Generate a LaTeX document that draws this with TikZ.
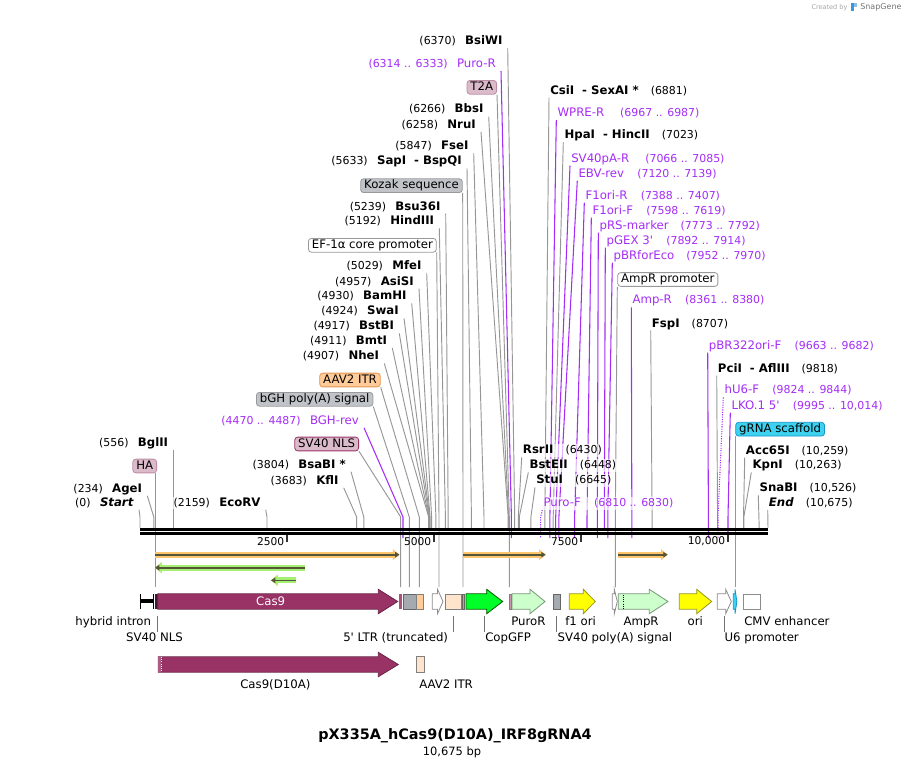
\documentclass[tikz,border=0pt]{standalone}
\usepackage{fontspec}
\setmainfont{DejaVu Sans}
\usetikzlibrary{arrows.meta,positioning,backgrounds}

\definecolor{sitegray}{RGB}{150,150,150}
\definecolor{primer}{RGB}{165,45,245}
\definecolor{cas9}{RGB}{153,51,102}
\definecolor{nlspink}{RGB}{219,186,201}
\definecolor{haborder}{RGB}{190,140,165}
\definecolor{t2apink}{RGB}{200,150,170}
\definecolor{boxgray}{RGB}{192,196,201}
\definecolor{featgray}{RGB}{165,170,176}
\definecolor{itrorange}{RGB}{255,204,153}
\definecolor{itrborder}{RGB}{225,150,80}
\definecolor{ltrpeach}{RGB}{255,228,204}
\definecolor{gfpgreen}{RGB}{0,255,40}
\definecolor{resgreen}{RGB}{204,255,204}
\definecolor{resborder}{RGB}{120,150,120}
\definecolor{oriyellow}{RGB}{255,255,0}
\definecolor{oriborder}{RGB}{150,150,40}
\definecolor{grnacyan}{RGB}{60,210,240}
\definecolor{grnaborder}{RGB}{20,150,200}
\definecolor{orfband}{RGB}{255,196,110}
\definecolor{orfgreen}{RGB}{165,240,115}
\definecolor{orfdark}{RGB}{85,85,55}
\definecolor{snapblue}{RGB}{60,150,220}

\newcommand{\sitenum}[1]{{\fontsize{8.2}{9}\selectfont(#1)}}
\newcommand{\farrow}[5]{\draw[#1] (#2,#5-7.7) -- (#3,#5-7.7) -- (#3,#5-12.2) -- (#4,#5) -- (#3,#5+12.2) -- (#3,#5+7.7) -- (#2,#5+7.7) -- cycle;}

\tikzstyle{lsite} = [anchor=east, inner xsep=3.75pt, inner ysep=0.6pt, text height=6.5pt, text depth=2pt,
fill=white, fill opacity=0.65, text opacity=1]
\tikzstyle{rsite} = [lsite, anchor=west, inner xsep=0.75pt]
\tikzstyle{lprimer} = [lsite, text=primer]
\tikzstyle{rprimer} = [rsite, text=primer]
\tikzstyle{fbox} = [draw, rounded corners=2.2pt, inner xsep=2.6pt, inner ysep=0.9pt,
text height=6.5pt, text depth=2pt, line width=0.6pt]
\tikzstyle{flabel} = [inner sep=0pt, text height=6.5pt, text depth=2pt]
\tikzstyle{ruler} = [anchor=east, inner sep=0pt, font=\fontsize{8}{9}\selectfont]
\tikzstyle{line} = [draw=sitegray, line width=0.7pt]
\tikzstyle{pline} = [draw=primer, line width=0.8pt]
\tikzstyle{tick} = [draw=black!55, line width=0.7pt]
\tikzstyle{fcas} = [fill=cas9, draw=cas9!70!black, line width=0.6pt]
\tikzstyle{fgray} = [fill=featgray, draw=black!60, line width=0.6pt]
\tikzstyle{fitr} = [fill=itrorange, draw=black!50, line width=0.6pt]
\tikzstyle{fltr} = [fill=ltrpeach, draw=black!50, line width=0.6pt]
\tikzstyle{fwhite} = [fill=white, draw=black!45, line width=0.6pt]
\tikzstyle{fgfp} = [fill=gfpgreen, draw=green!35!black, line width=0.6pt]
\tikzstyle{fres} = [fill=resgreen, draw=resborder, line width=0.6pt]
\tikzstyle{fori} = [fill=oriyellow, draw=oriborder, line width=0.6pt]
\tikzstyle{fgrna} = [fill=grnacyan, draw=grnaborder, line width=0.6pt]
\tikzstyle{orf} = [preaction={draw=orfband, line width=4.6pt, -{Triangle[length=5pt,width=8pt]}},
draw=orfdark, line width=1.2pt, -{Triangle[length=3.2pt,width=4pt]}]
\tikzstyle{orfg} = [orf, preaction={draw=orfgreen, line width=4.6pt, -{Triangle[length=5pt,width=8pt]}}]

\begin{document}
\begin{tikzpicture}[x=0.75pt, y=-0.75pt, every node/.style={font=\fontsize{8.8}{10}\selectfont}]
\useasboundingbox (0,0) rectangle (909,767);

% Helper heights
\coordinate (bend) at (0,517);

% Cut sites on the backbone
\coordinate (s-start) at (140,528);   \coordinate (s-agei) at (153.8,528);  \coordinate (s-bglii) at (173.3,528);
\coordinate (s-ecorv) at (267,528);   \coordinate (s-kfli) at (356.7,528);  \coordinate (s-bsabi) at (363.8,528);
\coordinate (s-nhei) at (428.7,528);  \coordinate (s-bmti) at (428.9,528);  \coordinate (s-bstbi) at (429.3,528);
\coordinate (s-swai) at (429.7,528);  \coordinate (s-bamhi) at (430.1,528); \coordinate (s-asisi) at (431.6,528);
\coordinate (s-mfei) at (435.9,528);  \coordinate (s-hind) at (445.4,528);  \coordinate (s-bsu) at (448.2,528);
\coordinate (s-sapi) at (471.4,528);  \coordinate (s-fsei) at (484,528);    \coordinate (s-nrui) at (508.2,528);
\coordinate (s-bbsi) at (508.6,528);  \coordinate (s-bsiwi) at (514.7,528); \coordinate (s-rsrii) at (518.3,528);
\coordinate (s-bsteii) at (519.3,528); \coordinate (s-stui) at (530.9,528); \coordinate (s-csii) at (544.8,528);
\coordinate (s-hpai) at (553.2,528);  \coordinate (s-fspi) at (652.2,528);  \coordinate (s-pcii) at (717.6,528);
\coordinate (s-acc) at (743.5,528);   \coordinate (s-kpni) at (743.8,528);  \coordinate (s-snabi) at (759.2,528);
\coordinate (s-end) at (768,528);

% Primer sites
\coordinate (p-bghrev) at (403,538);  \coordinate (p-puror) at (511.4,538); \coordinate (p-purof) at (540.6,538);
\coordinate (p-wprer) at (549.9,538); \coordinate (p-sv40par) at (555.7,538); \coordinate (p-ebvrev) at (558.9,538);
\coordinate (p-f1orir) at (574.6,538); \coordinate (p-f1orif) at (587,528); \coordinate (p-prs) at (597.3,538);
\coordinate (p-pgex) at (604.3,528);  \coordinate (p-pbrfor) at (607.8,538); \coordinate (p-ampr) at (631.9,538);
\coordinate (p-pbr322) at (708.5,538); \coordinate (p-hu6f) at (718,538);  \coordinate (p-lko) at (728,538);

% Feature tops
\coordinate (f-ha) at (155.7,587);    \coordinate (f-nls) at (400.7,587);   \coordinate (f-bgh) at (409.3,587);
\coordinate (f-itr) at (419.3,587);   \coordinate (f-ef) at (439,587);      \coordinate (f-kozak) at (463,587);
\coordinate (f-t2a) at (509.3,587);   \coordinate (f-amprp) at (615.3,587); \coordinate (f-grna) at (735.3,587);

% Left labels
\node[lsite] (bsiwi) at (507.7,41.7) {\sitenum{6370}\hspace{7pt}\textbf{BsiWI}};
\node[lprimer] (puror) at (501,64.3) {\sitenum{6314 .. 6333}\hspace{7pt}Puro-R};
\node[fbox, fill=nlspink, draw=haborder, anchor=east] (t2a) at (497,87.3) {T2A};
\node[lsite] (bbsi) at (488.7,110) {\sitenum{6266}\hspace{7pt}\textbf{BbsI}};
\node[lsite] (nrui) at (481,125) {\sitenum{6258}\hspace{7pt}\textbf{NruI}};
\node[lsite] (fsei) at (473.7,146.7) {\sitenum{5847}\hspace{7pt}\textbf{FseI}};
\node[lsite] (sapi) at (467,161.7) {\sitenum{5633}\hspace{7pt}\textbf{SapI}\hspace{6pt}\textbf{-}\hspace{3pt}\textbf{BspQI}};
\node[fbox, fill=boxgray, draw=black!40, anchor=east] (kozak) at (462.7,185.7) {Kozak sequence};
\node[lsite] (bsu) at (445.7,207) {\sitenum{5239}\hspace{7pt}\textbf{Bsu36I}};
\node[lsite] (hind) at (439.3,221.7) {\sitenum{5192}\hspace{7pt}\textbf{HindIII}};
\node[fbox, fill=white, draw=black!40, anchor=east] (ef) at (436.7,245.3) {EF-1α core promoter};
\node[lsite] (mfei) at (426.7,266.7) {\sitenum{5029}\hspace{7pt}\textbf{MfeI}};
\node[lsite] (asisi) at (419,282) {\sitenum{4957}\hspace{7pt}\textbf{AsiSI}};
\node[lsite] (bamhi) at (411.7,296.7) {\sitenum{4930}\hspace{7pt}\textbf{BamHI}};
\node[lsite] (swai) at (404,311.7) {\sitenum{4924}\hspace{7pt}\textbf{SwaI}};
\node[lsite] (bstbi) at (399.3,326.7) {\sitenum{4917}\hspace{7pt}\textbf{BstBI}};
\node[lsite] (bmti) at (392.3,341.3) {\sitenum{4911}\hspace{7pt}\textbf{BmtI}};
\node[lsite] (nhei) at (384.3,356.7) {\sitenum{4907}\hspace{7pt}\textbf{NheI}};
\node[fbox, fill=itrorange, draw=itrborder, anchor=east] (itr) at (380.7,380) {AAV2 ITR};
\node[fbox, fill=boxgray, draw=black!40, anchor=east] (bgh) at (373.3,399.3) {bGH poly(A) signal};
\node[lprimer] (bghrev) at (364,421) {\sitenum{4470 .. 4487}\hspace{7pt}BGH-rev};
\node[fbox, fill=nlspink, draw=cas9, anchor=east] (nlsbox) at (359,444) {SV40 NLS};
\node[lsite] (bsabi) at (351,465) {\sitenum{3804}\hspace{7pt}\textbf{BsaBI *}};
\node[lsite] (kfli) at (343.7,481) {\sitenum{3683}\hspace{7pt}\textbf{KflI}};
\node[lsite] (bglii) at (173.3,443) {\sitenum{556}\hspace{7pt}\textbf{BglII}};
\node[fbox, fill=nlspink, draw=haborder, anchor=east] (ha) at (157,466) {HA};
\node[lsite] (agei) at (147.3,489) {\sitenum{234}\hspace{7pt}\textbf{AgeI}};
\node[lsite] (startlbl) at (139,503) {\sitenum{0}\hspace{7pt}\textbf{\textit{Start}}};
\node[lsite] (ecorv) at (265.7,503) {\sitenum{2159}\hspace{7pt}\textbf{EcoRV}};

% Right labels
\node[rsite] (csii) at (549,91) {\textbf{CsiI}\hspace{6pt}\textbf{-}\hspace{3pt}\textbf{SexAI *}\hspace{9pt}\sitenum{6881}};
\node[rprimer] (wprer) at (556.3,113.3) {WPRE-R\hspace{12pt}\sitenum{6967 .. 6987}};
\node[rsite] (hpai) at (563.3,135.7) {\textbf{HpaI}\hspace{6pt}\textbf{-}\hspace{3pt}\textbf{HincII}\hspace{9pt}\sitenum{7023}};
\node[rprimer] (sv40par) at (570,159) {SV40pA-R\hspace{12pt}\sitenum{7066 .. 7085}};
\node[rprimer] (ebvrev) at (577.3,174) {EBV-rev\hspace{10pt}\sitenum{7120 .. 7139}};
\node[rprimer] (f1orir) at (584.3,196) {F1ori-R\hspace{10pt}\sitenum{7388 .. 7407}};
\node[rprimer] (f1orif) at (591.3,211) {F1ori-F\hspace{10pt}\sitenum{7598 .. 7619}};
\node[rprimer] (prs) at (598.3,226) {pRS-marker\hspace{9pt}\sitenum{7773 .. 7792}};
\node[rprimer] (pgex) at (605.3,241) {pGEX 3\textquotesingle\hspace{10pt}\sitenum{7892 .. 7914}};
\node[rprimer] (pbrfor) at (612.3,256) {pBRforEco\hspace{9pt}\sitenum{7952 .. 7970}};
\node[fbox, fill=white, draw=black!40, anchor=west] (amprp) at (617.3,279.5) {AmpR promoter};
\node[rprimer] (amprpr) at (631.3,300.7) {Amp-R\hspace{10pt}\sitenum{8361 .. 8380}};
\node[rsite] (fspi) at (650.7,324) {\textbf{FspI}\hspace{9pt}\sitenum{8707}};
\node[rprimer] (pbr322) at (707.7,346) {pBR322ori-F\hspace{10pt}\sitenum{9663 .. 9682}};
\node[rsite] (pcii) at (716.7,369) {\textbf{PciI}\hspace{6pt}\textbf{-}\hspace{3pt}\textbf{AflIII}\hspace{9pt}\sitenum{9818}};
\node[rprimer] (hu6f) at (723.3,390.7) {hU6-F\hspace{10pt}\sitenum{9824 .. 9844}};
\node[rprimer] (lko) at (730.3,406) {LKO.1 5\textquotesingle\hspace{10pt}\sitenum{9995 .. 10,014}};
\node[fbox, fill=grnacyan, draw=grnaborder, anchor=west] (grna) at (735.3,429.2) {gRNA scaffold};
\node[rsite] (acc) at (744.7,451) {\textbf{Acc65I}\hspace{9pt}\sitenum{10,259}};
\node[rsite] (kpni) at (751.3,465.7) {\textbf{KpnI}\hspace{9pt}\sitenum{10,263}};
\node[rsite] (snabi) at (758.3,488.7) {\textbf{SnaBI}\hspace{9pt}\sitenum{10,526}};
\node[rsite] (endlbl) at (767.7,503.3) {\textbf{\textit{End}}\hspace{9pt}\sitenum{10,675}};
\node[rsite] (rsrii) at (521.7,450.7) {\textbf{RsrII}\hspace{9pt}\sitenum{6430}};
\node[rsite] (bsteii) at (528.3,465.7) {\textbf{BstEII}\hspace{9pt}\sitenum{6448}};
\node[rsite] (stui) at (535,480.7) {\textbf{StuI}\hspace{9pt}\sitenum{6645}};
\node[rprimer] (purof) at (542.3,503.3) {Puro-F\hspace{10pt}\sitenum{6810 .. 6830}};

% Leader lines
\begin{scope}[on background layer]
  \draw[line] (startlbl.south east) -- (s-start |- bend) -- (s-start);
  \draw[line] (agei.south east) -- (s-agei |- bend) -- (s-agei);
  \draw[line] (bglii.south east) -- (s-bglii);
  \draw[line] (ecorv.south east) -- (s-ecorv |- bend) -- (s-ecorv);
  \draw[line] (kfli.south east) -- (s-kfli |- bend) -- (s-kfli);
  \draw[line] (bsabi.south east) -- (s-bsabi |- bend) -- (s-bsabi);
  \draw[line] (nhei.south east) -- (s-nhei |- bend) -- (s-nhei);
  \draw[line] (bmti.south east) -- (s-bmti |- bend) -- (s-bmti);
  \draw[line] (bstbi.south east) -- (s-bstbi |- bend) -- (s-bstbi);
  \draw[line] (swai.south east) -- (s-swai |- bend) -- (s-swai);
  \draw[line] (bamhi.south east) -- (s-bamhi |- bend) -- (s-bamhi);
  \draw[line] (asisi.south east) -- (s-asisi |- bend) -- (s-asisi);
  \draw[line] (mfei.south east) -- (s-mfei |- bend) -- (s-mfei);
  \draw[line] (hind.south east) -- (s-hind |- bend) -- (s-hind);
  \draw[line] (bsu.south east) -- (s-bsu |- bend) -- (s-bsu);
  \draw[line] (sapi.south east) -- (s-sapi |- bend) -- (s-sapi);
  \draw[line] (fsei.south east) -- (s-fsei |- bend) -- (s-fsei);
  \draw[line] (nrui.south east) -- (s-nrui |- bend) -- (s-nrui);
  \draw[line] (bbsi.south east) -- (s-bbsi |- bend) -- (s-bbsi);
  \draw[line] (bsiwi.south east) -- (s-bsiwi |- bend) -- (s-bsiwi);
  \draw[line] (rsrii.south west) -- (s-rsrii |- bend) -- (s-rsrii);
  \draw[line] (bsteii.south west) -- (s-bsteii |- bend) -- (s-bsteii);
  \draw[line] (stui.south west) -- (s-stui |- bend) -- (s-stui);
  \draw[line] (csii.south west) -- (s-csii |- bend) -- (s-csii);
  \draw[line] (hpai.south west) -- (s-hpai |- bend) -- (s-hpai);
  \draw[line] (fspi.south west) -- (s-fspi);
  \draw[line] (pcii.south west) -- (s-pcii);
  \draw[line] (acc.south west) -- (s-acc |- bend) -- (s-acc);
  \draw[line] (kpni.south west) -- (s-kpni |- bend) -- (s-kpni);
  \draw[line] (snabi.south west) -- (s-snabi);
  \draw[line] (endlbl.south west) -- (s-end);
  % features
  \draw[line] (ha.south -| f-ha) -- (f-ha);
  \draw[line] (nlsbox.south east) -- (f-nls |- bend) -- (f-nls);
  \draw[line] (bgh.south east) -- (f-bgh |- bend) -- (f-bgh);
  \draw[line] (itr.south east) -- (f-itr |- bend) -- (f-itr);
  \draw[line] (ef.south east) -- (f-ef |- bend) -- (f-ef);
  \draw[line] (kozak.south east) -- (f-kozak |- bend) -- (f-kozak);
  \draw[line] (t2a.south east) -- (f-t2a |- bend) -- (f-t2a);
  \draw[line] (amprp.south west) -- (f-amprp |- bend) -- (f-amprp);
  \draw[line] (grna.south west) -- (f-grna |- bend) -- (f-grna);
  % primers
  \draw[pline] (bghrev.south east) -- (p-bghrev |- bend) -- (p-bghrev);
  \draw[pline] (puror.south east) -- (p-puror |- bend) -- (p-puror);
  \draw[pline, densely dotted] (purof.south west) -- (p-purof |- bend) -- (p-purof);
  \draw[pline] (wprer.south west) -- (p-wprer |- bend) -- (p-wprer);
  \draw[pline] (sv40par.south west) -- (p-sv40par |- bend) -- (p-sv40par);
  \draw[pline] (ebvrev.south west) -- (p-ebvrev |- bend) -- (p-ebvrev);
  \draw[pline] (f1orir.south west) -- (p-f1orir |- bend) -- (p-f1orir);
  \draw[pline] (f1orif.south west) -- (p-f1orif |- bend) -- (p-f1orif);
  \draw[pline] (prs.south west) -- (p-prs |- bend) -- (p-prs);
  \draw[pline] (pgex.south west) -- (p-pgex |- bend) -- (p-pgex);
  \draw[pline] (pbrfor.south west) -- (p-pbrfor |- bend) -- (p-pbrfor);
  \draw[pline] (amprpr.south west) -- (p-ampr);
  \draw[pline] (pbr322.south west) -- (p-pbr322);
  \draw[pline, densely dotted] (hu6f.south west) -- (p-hu6f |- bend) -- (p-hu6f);
  \draw[pline] (lko.south west) -- (p-lko |- bend) -- (p-lko);
\end{scope}

% Backbone and ruler
\draw[line width=1.95pt] (140,529.3) -- (768,529.3);
\draw[line width=1.65pt] (140,533.5) -- (768,533.5);
\node[ruler] (r2500) at (284.5,541.5) {2500};
\node[ruler] (r5000) at (431.5,541.5) {5000};
\node[ruler] (r7500) at (578.5,541.5) {7500};
\node[ruler] (r10000) at (725.5,541.5) {10,000};
\draw[line width=1.5pt, black!80] (287.1,535) -- (287.1,541.5);
\draw[line width=1.5pt, black!80] (434.1,535) -- (434.1,541.5);
\draw[line width=1.5pt, black!80] (581.2,535) -- (581.2,541.5);
\draw[line width=1.5pt, black!80] (728.3,535) -- (728.3,541.5);

% ORFs
\draw[orf] (155,554.7) -- (399.5,554.7);
\draw[orfg] (305,567.7) -- (155,567.7);
\draw[orfg] (295.7,580.3) -- (271,580.3);
\draw[orf] (463.3,554.7) -- (545.7,554.7);
\draw[orf] (618.3,554.7) -- (667.7,554.7);

% Features, row 1
\fill (140,598.7) rectangle (154,603.3);
\draw[line width=0.9pt] (140.4,594) -- (140.4,609.3);
\draw[line width=0.9pt] (153.7,594) -- (153.7,609.3);
\fill[cas9!45!black] (155,594) rectangle (157.7,609.3);
\farrow{fcas}{157.7}{378.3}{397.7}{601.5}
\node[text=white] (cas9lbl) at (270.7,601.5) {Cas9};
\fill[cas9!85!white] (399.3,594) rectangle (401.5,609.3);
\draw[fgray] (403.3,594) rectangle (416,609.3);
\draw[fitr] (416,594) rectangle (423.3,609.3);
\farrow{fwhite}{432.3}{437.5}{443}{601.5}
\draw[fltr] (445,594) rectangle (461.7,609.3);
\draw[fgray] (462.4,594) rectangle (464,609.3);
\farrow{fgfp}{466}{486.7}{502.7}{601.5}
\draw[fill=t2apink, draw=black!50, line width=0.6pt] (509,594) rectangle (511.7,609.3);
\farrow{fres}{512}{530}{545}{601.5}
\draw[fgray] (553.3,594) rectangle (560.7,609.3);
\farrow{fori}{569.3}{583.3}{595.3}{601.5}
\farrow{fwhite}{612.3}{614.3}{617.3}{601.5}
\farrow{fres}{618.3}{649.3}{668}{601.5}
\draw[densely dotted, line width=0.7pt] (623.3,594.6) -- (623.3,608.7);
\farrow{fori}{679.3}{696.7}{711.7}{601.5}
\farrow{fwhite}{717.3}{725.7}{731.3}{601.5}
\farrow{fgrna}{733.3}{735}{736.9}{601.5}
\draw[fwhite] (743.3,594) rectangle (760.7,609.3);

% Features, row 2
\farrow{fcas}{158.3}{378.3}{398.3}{664.5}
\fill[cas9!80!white] (158.3,656.9) rectangle (160.5,672.1);
\draw[white, densely dotted, line width=0.6pt] (161.2,657.2) -- (161.2,671.8);
\draw[fltr] (416,656) rectangle (424.3,672.3);

% Feature labels
\node[flabel, anchor=east] (intronlbl) at (151.3,622.3) {hybrid intron};
\node[flabel] (nlslbl) at (154.5,638.3) {SV40 NLS};
\node[flabel, anchor=east] (ltrlbl) at (448.3,638.3) {5\textquotesingle\ LTR (truncated)};
\node[flabel, anchor=west] (gfplbl) at (485,638.3) {CopGFP};
\node[flabel, anchor=west] (purolbl) at (511,622.3) {PuroR};
\node[flabel, anchor=west] (sv40palbl) at (557.3,638.3) {SV40 poly(A) signal};
\node[flabel, anchor=west] (f1lbl) at (565,622.3) {f1 ori};
\node[flabel, anchor=west] (amprlbl) at (623.3,622.3) {AmpR};
\node[flabel, anchor=west] (orilbl) at (687.3,622.3) {ori};
\node[flabel, anchor=west] (u6lbl) at (724.3,638.3) {U6 promoter};
\node[flabel, anchor=west] (cmvlbl) at (744,622.3) {CMV enhancer};
\node[flabel, anchor=west] (d10albl) at (240,685.7) {Cas9(D10A)};
\node[flabel, anchor=west] (itr2lbl) at (419,685.7) {AAV2 ITR};

% Ticks to the lower labels
\coordinate (t-nls) at (157.3,616);  \coordinate (t-ltr) at (453.3,616);  \coordinate (t-gfp) at (484.3,616);
\coordinate (t-sv40pa) at (556.7,616); \coordinate (t-u6) at (724.3,616);
\draw[tick] (t-nls) -- (t-nls |- nlslbl.north);
\draw[tick] (t-ltr) -- (t-ltr |- ltrlbl.north);
\draw[tick] (t-gfp) -- (t-gfp |- gfplbl.north);
\draw[tick] (t-sv40pa) -- (t-sv40pa |- sv40palbl.north);
\draw[tick] (t-u6) -- (t-u6 |- u6lbl.north);

% Title
\node[font=\fontsize{10.8}{12}\selectfont\bfseries] (title) at (455,735.7) {pX335A\_hCas9(D10A)\_IRF8gRNA4};
\node[font=\fontsize{8.6}{10}\selectfont] (size) at (452,752.7) {10,675 bp};

% Credit
\node[anchor=east, inner sep=0pt, text=black!35, font=\fontsize{4.9}{6}\selectfont] (credit) at (847.7,7.3) {Created by};
\node[anchor=west, inner sep=0pt, text=black!55, font=\fontsize{6}{7}\selectfont] (snapgene) at (860,7.3) {SnapGene};
\fill[snapblue] (851,3.3) rectangle (854,10.8);
\fill[snapblue!60] (854,3.3) rectangle (857,7.5);
\end{tikzpicture}
\end{document}
